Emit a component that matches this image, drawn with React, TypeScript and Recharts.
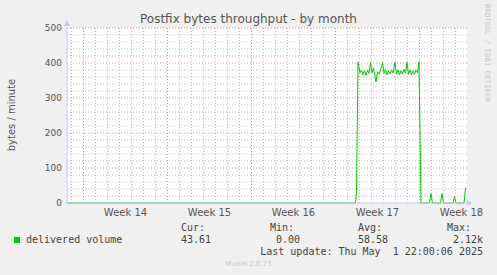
import { LineChart, Line, XAxis, YAxis, CartesianGrid, ReferenceLine } from 'recharts';

// time in hours from the left edge of the graph, value in bytes / minute
const HOURS = [
  0, 577, 579, 582, 586, 589, 592, 595, 598, 601, 604, 607, 610, 613, 616, 618, 621, 624, 627,
  631, 634, 637, 640, 643, 646, 649, 652, 656, 659, 662, 665, 668, 671, 674, 677, 680, 683, 686,
  689, 692, 695, 698, 701, 704, 708, 725, 728, 731, 747, 750, 753, 772, 775, 778, 794, 797,
];
const VOLUME = [
  0, 0, 33, 403, 372, 380, 366, 378, 365, 380, 370, 402, 372, 385, 362, 346, 375, 368, 380,
  402, 370, 382, 366, 378, 368, 380, 372, 402, 368, 380, 366, 378, 368, 382, 372, 402, 368, 380,
  366, 378, 368, 380, 372, 403, 0, 0, 27, 0, 0, 27, 0, 0, 18, 0, 0, 43.61,
];

const WEEK_LABELS = ['Week 14', 'Week 15', 'Week 16', 'Week 17', 'Week 18'];
const WEEK_MID = [117, 285, 453, 621, 789];
const WEEK_START = [33, 201, 369, 537, 705];
const Y_TICKS = [0, 100, 200, 300, 400, 500];

const data = HOURS.map((h, i) => ({ h, v: VOLUME[i] }));
const dayLines = Array.from({ length: 34 }, (_, i) => 9 + i * 24).filter((h) => h < 800 && !WEEK_START.includes(h));
const minorY = Array.from({ length: 25 }, (_, i) => (i + 1) * 20).filter((v) => v % 100 !== 0);

const txt = '#555';
const mono = "'DejaVu Sans Mono', monospace";
const axisCol = '#c8c8f4';

const Mono = ({ left, top, children, right }: any) => (
  <span
    style={{
      position: 'absolute',
      left,
      right,
      top,
      fontFamily: mono,
      fontSize: 10,
      lineHeight: '12px',
      color: '#444',
      whiteSpace: 'pre',
    }}
  >
    {children}
  </span>
);

export default function App() {
  return (
    <div style={{ position: 'absolute', left: 0, top: 0, width: 497, height: 275, background: '#f0f0f0', fontFamily: "'DejaVu Sans', sans-serif" }}>
      <LineChart width={497} height={275} data={data} margin={{ top: 28, right: 30, bottom: 52, left: 0 }}>
        <CartesianGrid fill="#ffffff" horizontal={false} vertical={false} />
        {dayLines.map((h) => (
          <ReferenceLine key={'d' + h} x={h} stroke="#bcbcbc" strokeDasharray="1 2" />
        ))}
        {minorY.map((v) => (
          <ReferenceLine key={'m' + v} y={v} stroke="#bcbcbc" strokeDasharray="1 2" />
        ))}
        {WEEK_START.map((h) => (
          <ReferenceLine key={'w' + h} x={h} stroke="#dc9090" strokeDasharray="1 2" />
        ))}
        {Y_TICKS.slice(1).map((v) => (
          <ReferenceLine key={'y' + v} y={v} stroke="#dc9090" strokeDasharray="1 2" />
        ))}
        <XAxis
          type="number"
          dataKey="h"
          domain={[0, 800]}
          ticks={WEEK_MID}
          tickFormatter={(h: number) => WEEK_LABELS[WEEK_MID.indexOf(h)]}
          tick={{ fontSize: 10, fill: txt }}
          tickLine={false}
          tickSize={4}
          tickMargin={2}
          axisLine={{ stroke: axisCol }}
          height={20}
          allowDataOverflow
        />
        <YAxis
          domain={[0, 500]}
          ticks={Y_TICKS}
          tick={{ fontSize: 9, fill: txt }}
          tickLine={false}
          tickSize={3}
          tickMargin={2}
          axisLine={{ stroke: axisCol }}
          width={67}
        />
        <Line
          type="linear"
          dataKey="v"
          stroke="#00cc00"
          strokeWidth={1}
          dot={false}
          isAnimationActive={false}
        />
      </LineChart>

      {/* axis arrows */}
      <svg style={{ position: 'absolute', left: 0, top: 0 }} width={497} height={275}>
        <polygon points="64,26 70,26 67,20" fill={axisCol} />
        <polygon points="467,200 467,206 473,203" fill={axisCol} />
      </svg>

      <div style={{ position: 'absolute', left: 0, width: 497, top: 11, textAlign: 'center', fontSize: 12, lineHeight: '16px', color: txt }}>
        Postfix bytes throughput - by month
      </div>
      <div
        style={{
          position: 'absolute',
          left: 11,
          top: 115,
          transform: 'translate(-50%, -50%) rotate(-90deg)',
          fontSize: 10,
          color: txt,
          whiteSpace: 'nowrap',
        }}
      >
        bytes / minute
      </div>
      <div
        style={{
          position: 'absolute',
          left: 487,
          top: 53,
          transform: 'translate(-50%, -50%) rotate(90deg)',
          fontFamily: mono,
          fontSize: 7.4,
          color: '#c8c8c8',
          whiteSpace: 'nowrap',
        }}
      >
        RRDTOOL / TOBI OETIKER
      </div>

      <div style={{ position: 'absolute', left: 14, top: 237, width: 6, height: 6, background: '#00cc00' }} />
      <Mono left={26} top={234}>delivered volume</Mono>
      <Mono left={181} top={222}>Cur:</Mono>
      <Mono left={270} top={222}>Min:</Mono>
      <Mono left={358} top={222}>Avg:</Mono>
      <Mono left={447} top={222}>Max:</Mono>
      <Mono left={181} top={234}>43.61</Mono>
      <Mono left={276} top={234}>0.00</Mono>
      <Mono left={358} top={234}>58.58</Mono>
      <Mono right={14} top={234}>2.12k</Mono>
      <Mono right={14} top={246}>Last update: Thu May  1 22:00:06 2025</Mono>
      <div style={{ position: 'absolute', left: 0, width: 497, top: 259, textAlign: 'center', fontSize: 7, lineHeight: '10px', color: '#c8c8c8' }}>
        Munin 2.0.73
      </div>
    </div>
  );
}
